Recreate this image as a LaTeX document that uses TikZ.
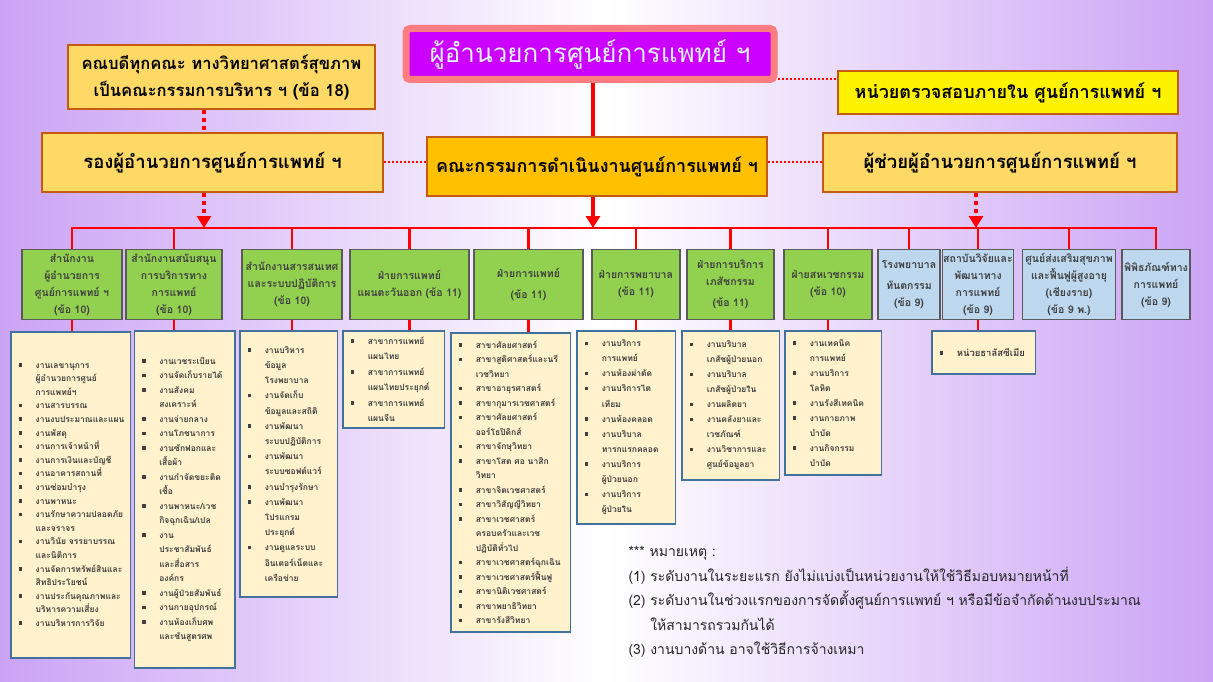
\documentclass[tikz,border=0pt]{standalone}
\usepackage{fontspec}
\setmainfont[Script=Thai]{Loma}
\usetikzlibrary{arrows.meta}

\definecolor{bgpurple}{RGB}{203,163,245}
\definecolor{dirfill}{RGB}{204,0,255}
\definecolor{dirline}{RGB}{255,124,128}
\definecolor{dirtext}{RGB}{225,240,255}
\definecolor{brownline}{RGB}{197,90,17}
\definecolor{lightgold}{RGB}{255,217,102}
\definecolor{darkgold}{RGB}{255,192,0}
\definecolor{unitgreen}{RGB}{146,208,80}
\definecolor{unitblue}{RGB}{189,215,238}
\definecolor{unitline}{RGB}{90,90,90}
\definecolor{unittext}{RGB}{64,64,64}
\definecolor{listfill}{RGB}{255,242,204}
\definecolor{listline}{RGB}{65,113,156}

\newcommand{\bl}{\makebox[17pt][l]{\raisebox{1.5pt}{\rule{3.5pt}{3.5pt}}}}
\newcommand{\ct}{\hspace*{17pt}}

\tikzset{
  dirbox/.style={draw=dirline, line width=7pt, fill=dirfill, rounded corners=4pt, text=dirtext,
    minimum width=368pt, minimum height=51pt, font=\fontsize{26}{30}\selectfont},
  topbox/.style={draw=brownline, line width=2pt, fill=lightgold, align=center, inner sep=2pt,
    font=\fontsize{16.6}{27}\selectfont\bfseries},
  midbox/.style={topbox, minimum height=59pt, font=\fontsize{18.5}{22}\selectfont\bfseries},
  unit/.style={draw=unitline, line width=1.2pt, fill=unitgreen, text=unittext, align=center,
    inner sep=1pt, minimum height=70pt, font=\fontsize{10.5}{17}\selectfont\bfseries},
  bunit/.style={unit, fill=unitblue},
  lst/.style={draw=listline, line width=1.5pt, fill=listfill, anchor=north, align=left,
    inner xsep=8pt, text=unittext, text width=#1, font=\fontsize{8.5}{14.5}\selectfont\bfseries},
  notes/.style={anchor=north west, align=left, text=black!85, font=\fontsize{14}{24.5}\selectfont},
  trunkline/.style={draw=red, line width=4pt},
  busline/.style={draw=red, line width=2.5pt},
  dotline/.style={draw=red, line width=2pt, dash pattern=on 2pt off 2pt},
  dotthick/.style={draw=red, line width=4pt, dash pattern=on 4pt off 4pt},
  redtip/.style={-{Triangle[width=14pt,length=12pt]}},
}

\begin{document}
\begin{tikzpicture}[x=1pt,y=-1pt]
\useasboundingbox (0,0) rectangle (1213,682);
\shade[left color=bgpurple, right color=bgpurple, middle color=white] (0,0) rectangle (1213,682);

% top level
\draw (590,54) node (dir) [dirbox] {ผู้อำนวยการศูนย์การแพทย์ ฯ};
\draw (221.5,77) node (deans) [topbox, minimum width=307pt, minimum height=64pt] {คณบดีทุกคณะ ทางวิทยาศาสตร์สุขภาพ\\เป็นคณะกรรมการบริหาร ฯ (ข้อ 18)};
\draw (1008,92.5) node (audit) [topbox, fill=yellow, minimum width=340pt, minimum height=43pt, font=\fontsize{18}{22}\selectfont\bfseries] {หน่วยตรวจสอบภายใน ศูนย์การแพทย์ ฯ};

\draw (212.5,162.5) node (vice) [midbox, minimum width=341pt] {รองผู้อำนวยการศูนย์การแพทย์ ฯ};
\draw (597,166.5) node (board) [midbox, fill=darkgold, minimum width=340pt, font=\fontsize{18}{22}\selectfont\bfseries] {คณะกรรมการดำเนินงานศูนย์การแพทย์ ฯ};
\draw (1000,162.5) node (asst) [midbox, minimum width=354pt] {ผู้ช่วยผู้อำนวยการศูนย์การแพทย์ ฯ};

\coordinate (bus) at (593,228);
\coordinate (vbus) at (204,228);
\coordinate (abus) at (976,228);

% units
\draw (72,284.5) node (g1) [unit, minimum width=100pt] {สำนักงาน\\ผู้อำนวยการ\\ศูนย์การแพทย์ ฯ\\(ข้อ 10)};
\draw (174,284.5) node (g2) [unit, minimum width=96pt] {สำนักงานสนับสนุน\\การบริการทาง\\การแพทย์\\(ข้อ 10)};
\draw (292,284.5) node (g3) [unit, minimum width=100pt] {สำนักงานสารสนเทศ\\และระบบปฏิบัติการ\\(ข้อ 10)};
\draw (409.5,284.5) node (g4) [unit, minimum width=119pt] {ฝ่ายการแพทย์\\แผนตะวันออก (ข้อ 11)};
\draw (528.5,284.5) node (g5) [unit, minimum width=109pt] {ฝ่ายการแพทย์\\[4pt](ข้อ 11)};
\draw (636,284.5) node (g6) [unit, minimum width=88pt] {ฝ่ายการพยาบาล\\(ข้อ 11)};
\draw (730.5,284.5) node (g7) [unit, minimum width=87pt] {ฝ่ายการบริการ\\เภสัชกรรม\\[4pt](ข้อ 11)};
\draw (828,284.5) node (g8) [unit, minimum width=88pt] {ฝ่ายสหเวชกรรม\\(ข้อ 10)};
\draw (909,284.5) node (g9) [bunit, minimum width=62pt] {โรงพยาบาล\\[4pt]ทันตกรรม\\(ข้อ 9)};
\draw (978,284.5) node (g10) [bunit, minimum width=67pt] {สถาบันวิจัยและ\\พัฒนาทาง\\การแพทย์\\(ข้อ 9)};
\draw (1069,284.5) node (g11) [bunit, minimum width=93pt] {ศูนย์ส่งเสริมสุขภาพ\\และฟื้นฟูผู้สูงอายุ\\(เชียงราย)\\(ข้อ 9 พ.)};
\draw (1156,284.5) node (g12) [bunit, minimum width=68pt] {พิพิธภัณฑ์ทาง\\การแพทย์\\(ข้อ 9)};

% work lists
\draw (70.5,331) node (l1) [lst=103.5pt, minimum height=326pt, font=\fontsize{8.5}{13.6}\selectfont\bfseries] {%
\bl งานเลขานุการ\\ \ct ผู้อำนวยการศูนย์\\ \ct การแพทย์ฯ\\
\bl งานสารบรรณ\\
\bl งานงบประมาณและแผน\\
\bl งานพัสดุ\\
\bl งานการเจ้าหน้าที่\\
\bl งานการเงินและบัญชี\\
\bl งานอาคารสถานที่\\
\bl งานซ่อมบำรุง\\
\bl งานพาหนะ\\
\bl งานรักษาความปลอดภัย\\ \ct และจราจร\\
\bl งานวินัย จรรยาบรรณ\\ \ct และนิติการ\\
\bl งานจัดการทรัพย์สินและ\\ \ct สิทธิประโยชน์\\
\bl งานประกันคุณภาพและ\\ \ct บริหารความเสี่ยง\\
\bl งานบริหารการวิจัย};
\draw (184.5,330) node (l2) [lst=84.5pt, minimum height=337pt] {%
\bl งานเวชระเบียน\\
\bl งานจัดเก็บรายได้\\
\bl งานสังคม\\ \ct สงเคราะห์\\
\bl งานจ่ายกลาง\\
\bl งานโภชนาการ\\
\bl งานซักฟอกและ\\ \ct เสื้อผ้า\\
\bl งานกำจัดขยะติด\\ \ct เชื้อ\\
\bl งานพาหนะ/เวช\\ \ct กิจฉุกเฉิน/เปล\\
\bl งาน\\ \ct ประชาสัมพันธ์\\ \ct และสื่อสาร\\ \ct องค์กร\\
\bl งานผู้ป่วยสัมพันธ์\\
\bl งานกายอุปกรณ์\\
\bl งานห้องเก็บศพ\\ \ct และชันสูตรศพ};
\draw (288.5,330) node (l3) [lst=81.5pt, minimum height=266pt, font=\fontsize{8.5}{15.2}\selectfont\bfseries] {%
\bl งานบริหาร\\ \ct ข้อมูล\\ \ct โรงพยาบาล\\
\bl งานจัดเก็บ\\ \ct ข้อมูลและสถิติ\\
\bl งานพัฒนา\\ \ct ระบบปฏิบัติการ\\
\bl งานพัฒนา\\ \ct ระบบซอฟต์แวร์\\
\bl งานบำรุงรักษา\\
\bl งานพัฒนา\\ \ct โปรแกรม\\ \ct ประยุกต์\\
\bl งานดูแลระบบ\\ \ct อินเตอร์เน็ตและ\\ \ct เครือข่าย};
\draw (393.5,330) node (l4) [lst=85.5pt, minimum height=97pt, font=\fontsize{8.5}{15.5}\selectfont\bfseries] {%
\bl สาขาการแพทย์\\ \ct แผนไทย\\
\bl สาขาการแพทย์\\ \ct แผนไทยประยุกต์\\
\bl สาขาการแพทย์\\ \ct แผนจีน};
\draw (510.5,332) node (l5) [lst=103.5pt, minimum height=299pt] {%
\bl สาขาศัลยศาสตร์\\
\bl สาขาสูติศาสตร์และนรี\\ \ct เวชวิทยา\\
\bl สาขาอายุรศาสตร์\\
\bl สาขากุมารเวชศาสตร์\\
\bl สาขาศัลยศาสตร์\\ \ct ออร์โธปิดิกส์\\
\bl สาขาจักษุวิทยา\\
\bl สาขาโสต ศอ นาสิก\\ \ct วิทยา\\
\bl สาขาจิตเวชศาสตร์\\
\bl สาขาวิสัญญีวิทยา\\
\bl สาขาเวชศาสตร์\\ \ct ครอบครัวและเวช\\ \ct ปฏิบัติทั่วไป\\
\bl สาขาเวชศาสตร์ฉุกเฉิน\\
\bl สาขาเวชศาสตร์ฟื้นฟู\\
\bl สาขานิติเวชศาสตร์\\
\bl สาขาพยาธิวิทยา\\
\bl สาขารังสีวิทยา};
\draw (626,330) node (l6) [lst=82.5pt, minimum height=193pt, font=\fontsize{8.5}{15.1}\selectfont\bfseries] {%
\bl งานบริการ\\ \ct การแพทย์\\
\bl งานห้องผ่าตัด\\
\bl งานบริการไต\\ \ct เทียม\\
\bl งานห้องคลอด\\
\bl งานบริบาล\\ \ct ทารกแรกคลอด\\
\bl งานบริการ\\ \ct ผู้ป่วยนอก\\
\bl งานบริการ\\ \ct ผู้ป่วยใน};
\draw (730.5,330) node (l7) [lst=81.5pt, minimum height=149pt, font=\fontsize{8.5}{15}\selectfont\bfseries] {%
\bl งานบริบาล\\ \ct เภสัชผู้ป่วยนอก\\
\bl งานบริบาล\\ \ct เภสัชผู้ป่วยใน\\
\bl งานผลิตยา\\
\bl งานคลังยาและ\\ \ct เวชภัณฑ์\\
\bl งานวิชาการและ\\ \ct ศูนย์ข้อมูลยา};
\draw (833,330) node (l8) [lst=80.5pt, minimum height=144pt, font=\fontsize{8.5}{15}\selectfont\bfseries] {%
\bl งานเทคนิค\\ \ct การแพทย์\\
\bl งานบริการ\\ \ct โลหิต\\
\bl งานรังสีเทคนิค\\
\bl งานกายภาพ\\ \ct บำบัด\\
\bl งานกิจกรรม\\ \ct บำบัด};
\draw (983.5,330) node (l10) [lst=87.5pt, minimum height=43pt, font=\fontsize{9.5}{14}\selectfont\bfseries] {\bl หน่วยธาลัสซีเมีย};

% connectors
\draw[trunkline] (bus |- dir.south) -- (bus |- board.north);
\draw[trunkline, redtip] (bus |- board.south) -- (bus);
\draw[dotline] ([yshift=4pt]dir.south east) -- ([yshift=4pt]dir.south east -| audit.west);
\draw[dotthick] (vbus |- deans.south) -- (vbus |- vice.north);
\draw[dotthick, redtip] (vbus |- vice.south) -- (vbus);
\draw[dotline] (vice.east) -- (vice.east -| board.west);
\draw[dotline] (board.east |- asst.west) -- (asst.west);
\draw[dotthick, redtip] (abus |- asst.south) -- (abus);

\draw[busline] (g1.north) |- (bus) -| (g12.north);
\foreach \k in {2,...,11}
  \draw[busline] (bus -| g\k) -- (g\k.north);
\foreach \k in {1,2,3,4,5,6,7,8,10}
  \draw[busline] (g\k.south) -- (g\k.south |- l\k.north);

% remarks
\draw (625,543) node (notes) [notes] {*** หมายเหตุ :\\
(1) ระดับงานในระยะแรก ยังไม่แบ่งเป็นหน่วยงานให้ใช้วิธีมอบหมายหน้าที่\\
(2) ระดับงานในช่วงแรกของการจัดตั้งศูนย์การแพทย์ ฯ หรือมีข้อจำกัดด้านงบประมาณ\\
\phantom{(2) }ให้สามารถรวมกันได้\\
(3) งานบางด้าน อาจใช้วิธีการจ้างเหมา};
\end{tikzpicture}
\end{document}
